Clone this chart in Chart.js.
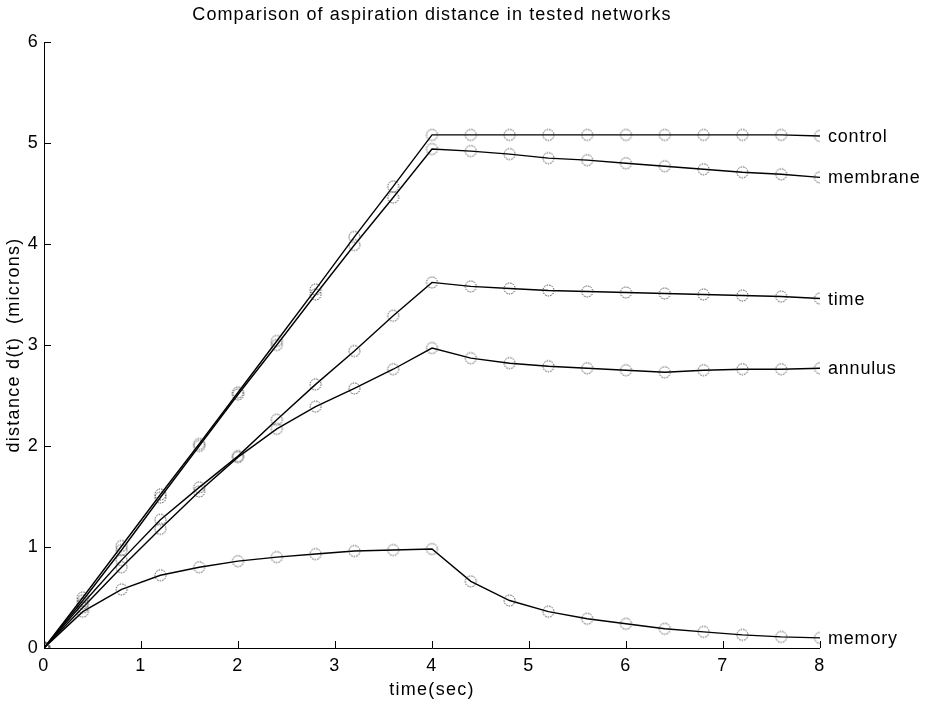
<!DOCTYPE html>
<html><head><meta charset="utf-8">
<script src="https://cdn.jsdelivr.net/npm/chart.js@4/dist/chart.umd.min.js"></script>
<style>html,body{margin:0;padding:0;background:#fff}#wrap{width:943px;height:705px}</style>
</head><body><div id="wrap"><canvas id="c" width="943" height="705"></canvas></div>
<script>
const titleText = "Comparison of aspiration distance in tested networks";
const xTitle = "time(sec)";
const yTitle = "distance d(t)  (microns)";
const times = [0,0.4,0.8,1.2,1.6,2.0,2.4,2.8,3.2,3.6,4.0,4.4,4.8,5.2,5.6,6.0,6.4,6.8,7.2,7.6,8.0];
const seriesNames = ["control","membrane","time","annulus","memory"];
const control  = [0,0.50,1.01,1.52,2.02,2.53,3.04,3.55,4.07,4.57,5.08,5.08,5.08,5.08,5.08,5.08,5.08,5.08,5.08,5.08,5.07];
const membrane = [0,0.47,0.97,1.49,2.00,2.51,3.00,3.50,3.99,4.46,4.94,4.92,4.89,4.85,4.83,4.80,4.77,4.74,4.71,4.69,4.66];
const timeNet  = [0,0.44,0.87,1.27,1.59,1.90,2.26,2.61,2.94,3.29,3.62,3.58,3.56,3.54,3.53,3.52,3.51,3.50,3.49,3.48,3.46];
const annulus  = [0,0.40,0.80,1.18,1.55,1.89,2.17,2.39,2.57,2.76,2.97,2.87,2.82,2.79,2.77,2.75,2.73,2.75,2.76,2.76,2.77];
const memory   = [0,0.36,0.58,0.72,0.80,0.86,0.90,0.93,0.96,0.97,0.98,0.66,0.47,0.36,0.29,0.24,0.19,0.16,0.13,0.11,0.10];
const xTicks = [0,1,2,3,4,5,6,7,8];
const yTicks = [0,1,2,3,4,5,6];

const FONT = "'Liberation Sans', Arial, Helvetica, sans-serif";
const SPACING = '1.3px';

const mk = document.createElement('canvas');
mk.width = 15; mk.height = 15;
(function(){
  const g = mk.getContext('2d');
  g.strokeStyle = '#333'; g.lineWidth = 1;
  g.setLineDash([1.4,1.2]);
  g.beginPath(); g.arc(7.5,7.5,5.5,0,Math.PI*2); g.stroke();
})();

const allSeries = [control, membrane, timeNet, annulus, memory];
const datasets = allSeries.map((arr,i)=>({
  label: seriesNames[i],
  data: times.map((t,j)=>({x:t,y:arr[j]})),
  borderColor:'#000', borderWidth:1.4,
  pointStyle: mk, pointRadius:6, pointHoverRadius:6,
  tension:0, fill:false
}));

const deco = {
  id:'deco',
  beforeInit(chart){ chart.ctx.letterSpacing = SPACING; },
  beforeDraw(chart){ chart.ctx.letterSpacing = SPACING; },
  afterDraw(chart){
    const ctx = chart.ctx, xs = chart.scales.x, ys = chart.scales.y;
    const a = chart.chartArea;
    ctx.save();
    ctx.strokeStyle = '#000'; ctx.lineWidth = 1;
    ctx.beginPath();
    ctx.moveTo(a.left+0.5, a.top); ctx.lineTo(a.left+0.5, a.bottom+0.5); ctx.lineTo(a.right, a.bottom+0.5);
    ctx.stroke();
    ctx.beginPath();
    xTicks.forEach(v=>{const px=Math.round(xs.getPixelForValue(v))+0.5; ctx.moveTo(px,a.bottom); ctx.lineTo(px,a.bottom-7);});
    yTicks.forEach(v=>{const py=Math.round(ys.getPixelForValue(v))+0.5; ctx.moveTo(a.left,py); ctx.lineTo(a.left+7,py);});
    ctx.stroke();
    ctx.fillStyle = '#000';
    ctx.letterSpacing = '0.8px';
    ctx.font = '18px ' + FONT;
    ctx.textBaseline = 'middle'; ctx.textAlign = 'left';
    chart.data.datasets.forEach((ds,i)=>{
      const pts = chart.getDatasetMeta(i).data;
      const p = pts[pts.length-1];
      ctx.fillText(ds.label, p.x+8, p.y+1);
    });
    ctx.letterSpacing = '1.1px';
    ctx.textBaseline = 'alphabetic';
    ctx.font = '18px ' + FONT;
    const w = ctx.measureText(titleText).width;
    ctx.fillText(titleText, (a.left+a.right)/2 - w/2, 20);
    ctx.restore();
  }
};

new Chart(document.getElementById('c'), {
  type:'line',
  data:{datasets},
  options:{
    responsive:false, animation:false, devicePixelRatio:1,
    layout:{padding:{left:0,right:123,top:42,bottom:0}},
    plugins:{legend:{display:false}, tooltip:{enabled:false}},
    scales:{
      x:{type:'linear', min:0, max:8,
        afterBuildTicks(s){ s.ticks = xTicks.map(v=>({value:v})); },
        afterFit(s){ s.height = 57; },
        grid:{display:false, drawTicks:false}, border:{display:false},
        ticks:{color:'#000', font:{size:18, family:FONT}, padding:7, maxRotation:0},
        title:{display:true, text:xTitle, color:'#000', font:{size:18,family:FONT}, padding:{top:0,bottom:4}}
      },
      y:{type:'linear', min:0, max:6,
        afterBuildTicks(s){ s.ticks = yTicks.map(v=>({value:v})); },
        afterFit(s){ s.width = 44; },
        grid:{display:false, drawTicks:false}, border:{display:false},
        ticks:{color:'#000', font:{size:18, family:FONT}, padding:5},
        title:{display:true, text:yTitle, color:'#000', font:{size:18,family:FONT}, padding:{top:3,bottom:0}}
      }
    }
  },
  plugins:[deco]
});
</script></body></html>
